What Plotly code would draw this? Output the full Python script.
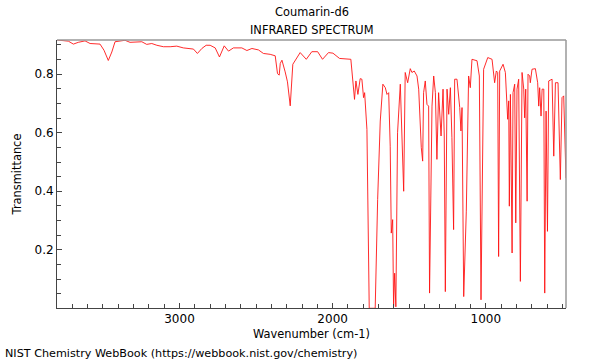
import plotly.graph_objects as go

wavenumber = [3798, 3759, 3726, 3693, 3661, 3617, 3584, 3519, 3493, 3465, 3442, 3421, 3377, 3356,
              3323, 3279, 3246, 3214, 3181, 3148, 3105, 3061, 3018, 2975, 2942, 2909, 2883, 2854,
              2826, 2800, 2767, 2739, 2708, 2680, 2648, 2593, 2560, 2527, 2484, 2452, 2408, 2375,
              2360, 2349, 2342, 2331, 2310, 2295, 2277, 2260, 2212, 2172, 2136, 2098, 2066, 2027,
              1998, 1955, 1881, 1857, 1848, 1835, 1820, 1809, 1798, 1791, 1776, 1761, 1722, 1706,
              1689, 1672, 1656, 1645, 1634, 1624, 1617, 1608, 1602, 1595, 1587, 1576, 1558, 1547,
              1536, 1526, 1510, 1493, 1482, 1467, 1449, 1438, 1421, 1412, 1406, 1395, 1384, 1373,
              1367, 1351, 1340, 1329, 1319, 1308, 1292, 1279, 1271, 1264, 1253, 1242, 1231, 1221,
              1210, 1203, 1188, 1170, 1162, 1155, 1144, 1127, 1112, 1101, 1090, 1057, 1042, 1031,
              1014, 987, 959, 942, 931, 922, 916, 909, 887, 872, 857, 850, 846, 839, 828, 822, 811,
              804, 796, 785, 774, 763, 752, 746, 739, 730, 724, 713, 709, 698, 676, 661, 654, 648,
              639, 632, 621, 615, 606, 597, 589, 567, 556, 545, 528, 513, 502, 491, 480, 476]

transmittance = [0.917, 0.914, 0.913, 0.903, 0.909, 0.914, 0.905, 0.903, 0.882, 0.847, 0.876, 0.911,
                 0.916, 0.916, 0.909, 0.909, 0.911, 0.902, 0.905, 0.899, 0.894, 0.894, 0.896, 0.890,
                 0.888, 0.886, 0.871, 0.888, 0.899, 0.899, 0.890, 0.859, 0.897, 0.879, 0.890, 0.890,
                 0.881, 0.888, 0.883, 0.871, 0.868, 0.863, 0.802, 0.797, 0.837, 0.848, 0.808, 0.774,
                 0.692, 0.834, 0.874, 0.851, 0.877, 0.877, 0.851, 0.874, 0.872, 0.854, 0.851, 0.714,
                 0.777, 0.731, 0.785, 0.783, 0.720, 0.737, 0.611, 0.000, 0.000, 0.372, 0.640, 0.766,
                 0.754, 0.731, 0.737, 0.554, 0.257, 0.303, 0.005, 0.120, 0.005, 0.600, 0.766, 0.543,
                 0.400, 0.806, 0.771, 0.819, 0.806, 0.811, 0.794, 0.749, 0.549, 0.503, 0.737, 0.777,
                 0.697, 0.691, 0.052, 0.691, 0.794, 0.737, 0.509, 0.737, 0.589, 0.749, 0.589, 0.057,
                 0.749, 0.663, 0.754, 0.583, 0.269, 0.783, 0.783, 0.686, 0.606, 0.686, 0.040, 0.332,
                 0.794, 0.754, 0.851, 0.846, 0.794, 0.029, 0.817, 0.857, 0.851, 0.771, 0.811, 0.806,
                 0.177, 0.811, 0.834, 0.806, 0.646, 0.709, 0.349, 0.731, 0.189, 0.737, 0.766, 0.292,
                 0.749, 0.783, 0.092, 0.806, 0.749, 0.651, 0.749, 0.366, 0.800, 0.794, 0.771, 0.817,
                 0.819, 0.771, 0.691, 0.754, 0.657, 0.749, 0.749, 0.052, 0.674, 0.263, 0.777, 0.783,
                 0.520, 0.771, 0.771, 0.440, 0.720, 0.726, 0.452, 0.445]

x_ticks = [3000, 2000, 1000]
y_ticks = [0.2, 0.4, 0.6, 0.8]

FONT = "DejaVu Sans"
FS = 11.4

fig = go.Figure()
fig.add_trace(go.Scatter(x=wavenumber, y=transmittance, mode="lines",
                         line=dict(color="rgb(255,20,20)", width=0.9), hoverinfo="skip"))

fig.update_layout(
    width=600, height=360,
    margin=dict(l=57, r=34, t=40, b=52),
    paper_bgcolor="white", plot_bgcolor="white",
    showlegend=False,
    font=dict(family=FONT, size=FS, color="black"),
)
fig.update_xaxes(
    range=[3800, 476], autorange=False,
    tickvals=x_ticks, ticktext=[str(v) for v in x_ticks],
    ticks="inside", ticklen=5, tickcolor="#444", tickwidth=1,
    minor=dict(dtick=100, tick0=0, ticks="inside", ticklen=4, tickcolor="#444", showgrid=False),
    showgrid=False, zeroline=False,
    showline=True, linecolor="#444", linewidth=1, mirror=False,
    title=dict(text="Wavenumber (cm-1)", font=dict(size=FS), standoff=4),
    tickfont=dict(size=12), automargin=False,
)
fig.update_yaxes(
    range=[0.001, 0.917], autorange=False,
    tickvals=y_ticks, ticktext=[f"{v:.1f}" for v in y_ticks],
    ticks="inside", ticklen=5, tickcolor="#444", tickwidth=1,
    minor=dict(dtick=0.05, tick0=0, ticks="inside", ticklen=4, tickcolor="#444", showgrid=False),
    showgrid=False, zeroline=False,
    showline=True, linecolor="#444", linewidth=1, mirror=False,
    title=dict(text="Transmittance", font=dict(size=FS), standoff=10),
    tickfont=dict(size=12), automargin=False,
)
# top and right frame (gray)
fig.add_shape(type="line", xref="paper", yref="paper", x0=0, x1=1, y0=1, y1=1,
              line=dict(color="#999999", width=1.5))
fig.add_shape(type="line", xref="paper", yref="paper", x0=1, x1=1, y0=0, y1=1,
              line=dict(color="#999999", width=1.5))

fig.add_annotation(text="Coumarin-d6", xref="paper", yref="paper", x=0.5, y=1,
                   yshift=28, yanchor="middle", showarrow=False, font=dict(size=FS))
fig.add_annotation(text="INFRARED SPECTRUM", xref="paper", yref="paper", x=0.5, y=1,
                   yshift=10, yanchor="middle", showarrow=False, font=dict(size=FS))
fig.add_annotation(text="NIST Chemistry WebBook (https://webbook.nist.gov/chemistry)",
                   xref="paper", yref="paper", x=-54/509, xanchor="left", y=0,
                   yshift=-45, yanchor="middle", showarrow=False, font=dict(size=11.2))

fig.write_html("out.html", config={"displayModeBar": False},
               post_script="document.body.style.margin='0';document.body.style.padding='0';")
